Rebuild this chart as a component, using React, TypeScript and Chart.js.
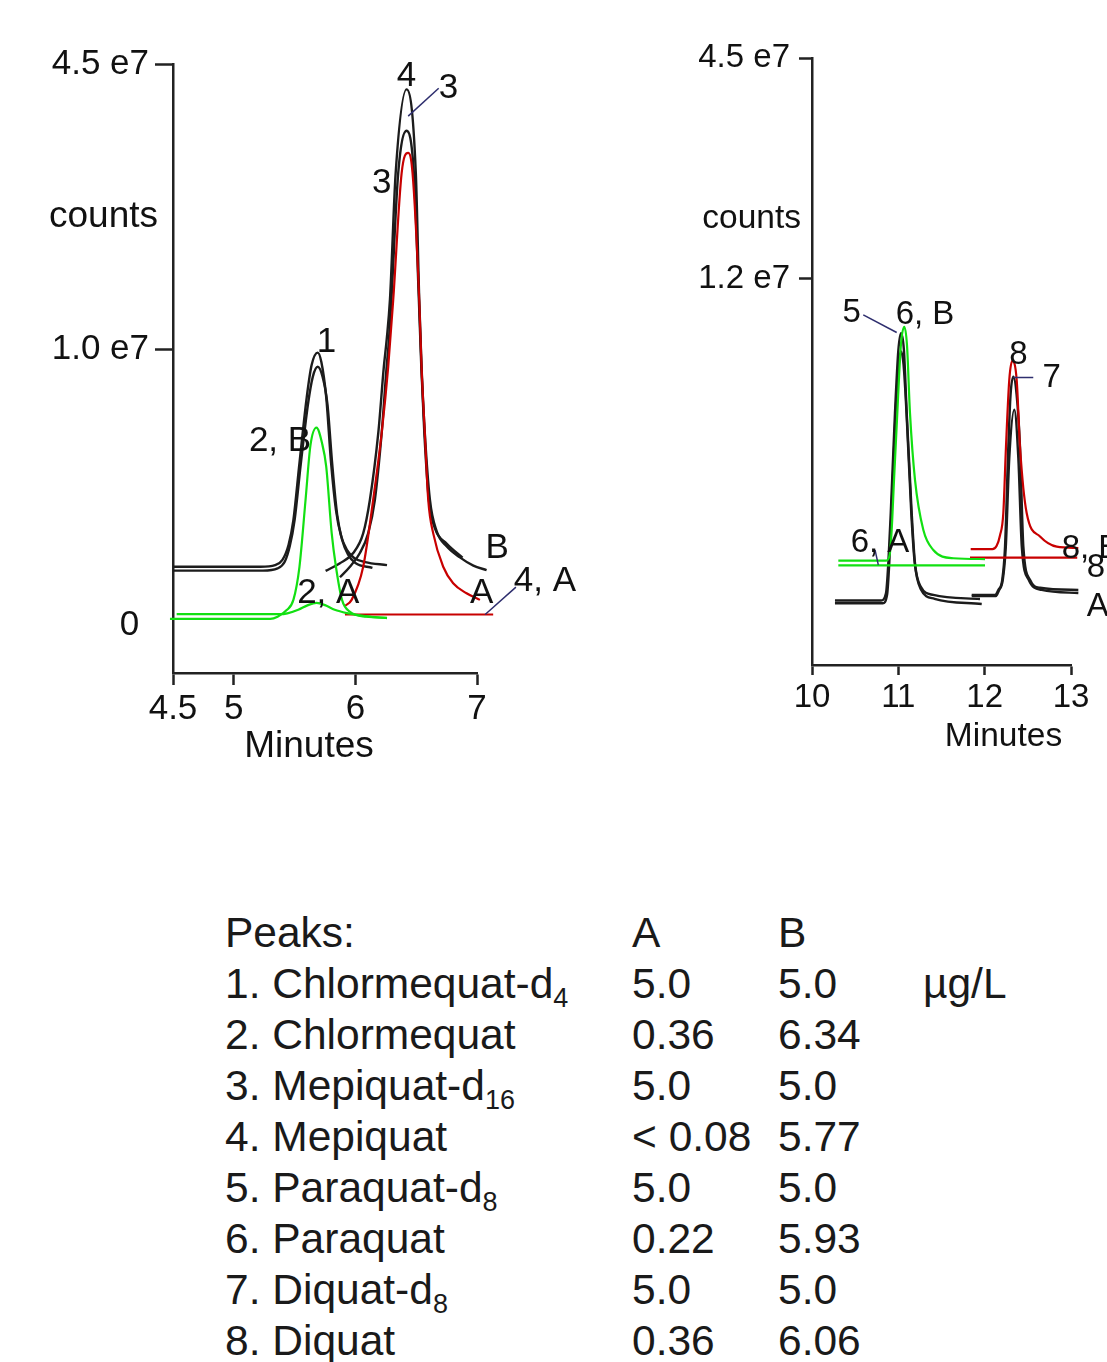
import React, { useEffect, useRef } from "react";
import { Chart, registerables } from "chart.js";

Chart.register(...registerables);

const FONT = '"Liberation Sans", Arial, Helvetica, sans-serif';
const AXIS = "#222";
const BLACK = "#1c1c1c";
const RED = "#c80000";
const GREEN = "#12e012";
const NAVY = "#2e2e6e";

type Pt = [number, number];
type Label = { t: number; v: number; text: string; align?: CanvasTextAlign };
type Leader = [number, number, number, number];

// ---------------- Left panel: x = minutes, y = counts (×1e6) ----------------
const leftXTicks = [4.5, 5, 6, 7];
const leftXTickLabels = ["4.5", "5", "6", "7"];
const leftYTicks = [0, 10, 20.33];
const leftYTickLabels = ["0 ", "1.0 e7", "4.5 e7"];

const leftGreenB: Pt[] = [
  [4.475, 0.22], [5.3, 0.22], [5.36, 0.3], [5.435, 0.54], [5.49, 0.91], [5.54, 2.11],
  [5.59, 4.53], [5.63, 6.5], [5.68, 7.15], [5.725, 6.6], [5.76, 5.74], [5.805, 3.33],
  [5.84, 2.11], [5.89, 0.91], [5.955, 0.48], [6.09, 0.3], [6.26, 0.26],
];
const leftGreenA: Pt[] = [
  [4.53, 0.39], [5.38, 0.39], [5.44, 0.42], [5.53, 0.55], [5.61, 0.72], [5.68, 0.8],
  [5.75, 0.72], [5.83, 0.55], [5.93, 0.43], [6.08, 0.32], [6.26, 0.25],
];
const leftRedA3: Pt[] = [
  [5.914, 0.69], [5.969, 0.91], [6.064, 2.11], [6.146, 4.53], [6.216, 6.95], [6.27, 9.36],
  [6.311, 11.78], [6.38, 16.37], [6.434, 17.11], [6.47, 16.37], [6.525, 11.78],
  [6.544, 9.36], [6.571, 6.95], [6.599, 4.53], [6.64, 3.32], [6.722, 2.11], [6.804, 1.51],
  [6.914, 1.15], [7.024, 0.91],
];
const leftRedA4: Pt[] = [[5.914, 0.38], [7.133, 0.38]];
const leftBlackB4: Pt[] = [
  [5.755, 1.96], [5.873, 2.24], [5.982, 2.61], [6.064, 3.32], [6.119, 4.53], [6.188, 6.95],
  [6.234, 9.36], [6.257, 10.33], [6.284, 11.78], [6.331, 16.37], [6.421, 19.41],
  [6.497, 16.37], [6.525, 11.78], [6.544, 9.36], [6.571, 6.95], [6.613, 4.53],
  [6.668, 3.4], [6.75, 2.85], [6.859, 2.45], [6.97, 2.15], [7.079, 1.99],
];
const leftBlackB3: Pt[] = [
  [5.873, 1.73], [5.955, 2.11], [6.037, 2.61], [6.105, 3.32], [6.16, 4.53], [6.216, 6.95],
  [6.257, 9.36], [6.276, 10.33], [6.296, 11.78], [6.352, 16.37], [6.421, 17.91],
  [6.481, 16.37], [6.522, 11.78], [6.542, 9.36], [6.567, 6.95], [6.604, 4.53],
  [6.654, 3.5], [6.75, 2.95], [6.881, 2.44],
];
const leftBlack1a: Pt[] = [
  [4.5, 2.11], [5.22, 2.11], [5.34, 2.17], [5.4, 2.36], [5.45, 2.9], [5.49, 3.8], [5.54, 5.87],
  [5.6, 8.26], [5.64, 9.42], [5.69, 9.87], [5.72, 9.53], [5.76, 8.26], [5.8, 5.87],
  [5.84, 4.17], [5.88, 3.26], [5.93, 2.72], [5.99, 2.43], [6.08, 2.28], [6.26, 2.17],
];
const leftBlack1b: Pt[] = [
  [4.5, 1.97], [5.24, 1.97], [5.36, 2.05], [5.42, 2.3], [5.46, 2.85], [5.5, 3.8], [5.55, 5.8],
  [5.61, 8.0], [5.65, 9.0], [5.69, 9.36], [5.73, 9.0], [5.77, 8.0], [5.81, 5.8],
  [5.85, 4.0], [5.89, 3.1], [5.94, 2.55], [6.0, 2.25], [6.14, 2.07],
];

const leftLabels: Label[] = [
  { t: 6.421, v: 19.87, text: "4" },
  { t: 6.766, v: 19.45, text: "3" },
  { t: 6.216, v: 16.0, text: "3" },
  { t: 5.763, v: 10.26, text: "1" },
  { t: 5.38, v: 6.64, text: "2, B" },
  { t: 7.166, v: 2.78, text: "B" },
  { t: 5.777, v: 1.15, text: "2, A" },
  { t: 7.038, v: 1.15, text: "A" },
  { t: 7.558, v: 1.57, text: "4, A" },
];
const leftLeaders: Leader[] = [
  [6.685, 19.45, 6.434, 18.44],
  [7.32, 1.37, 7.067, 0.38],
];

// ---------------- Right panel ----------------
const rightXTicks = [10, 11, 12, 13];
const rightXTickLabels = ["10", "11", "12", "13"];
const rightYTicks = [12, 20];
const rightYTickLabels = ["1.2 e7", "4.5 e7"];

const rightGreenB: Pt[] = [
  [10.305, 1.78], [10.86, 1.78], [10.9, 2.0], [10.923, 2.9], [10.95, 4.71], [10.988, 7.13],
  [11.03, 9.6], [11.069, 10.26], [11.1, 9.6], [11.135, 7.13], [11.193, 4.71], [11.289, 2.9],
  [11.405, 2.17], [11.637, 1.87], [12.004, 1.84],
];
const rightGreenA: Pt[] = [[10.305, 1.61], [12.004, 1.61]];
const rightRedB: Pt[] = [
  [11.838, 2.2], [12.09, 2.2], [12.139, 2.32], [12.178, 2.7], [12.216, 3.5], [12.247, 5.92],
  [12.285, 8.33], [12.32, 9.02], [12.371, 8.33], [12.409, 5.92], [12.487, 3.5],
  [12.641, 2.66], [12.835, 2.29], [13.085, 2.24],
];
const rightRedA: Pt[] = [[11.83, 1.89], [13.072, 1.89]];
const rightBlack5: Pt[] = [
  [10.266, 0.34], [10.8, 0.34], [10.857, 0.6], [10.884, 1.69], [10.912, 3.5], [10.961, 7.13],
  [11.0, 9.4], [11.031, 10.03], [11.065, 9.4], [11.097, 7.13], [11.155, 3.5], [11.193, 1.69],
  [11.259, 0.84], [11.405, 0.54], [11.946, 0.39],
];
const rightBlack6: Pt[] = [
  [10.266, 0.24], [10.82, 0.24], [10.87, 0.55], [10.895, 1.69], [10.92, 3.5], [10.968, 7.13],
  [11.005, 8.9], [11.031, 9.36], [11.06, 8.9], [11.095, 7.13], [11.15, 3.5], [11.19, 1.69],
  [11.26, 0.75], [11.42, 0.4], [11.966, 0.21],
];
const rightBlack7a: Pt[] = [
  [11.85, 0.54], [12.12, 0.54], [12.158, 0.72], [12.204, 1.09], [12.236, 2.29], [12.274, 5.92],
  [12.3, 7.8], [12.332, 8.45], [12.37, 7.8], [12.409, 5.92], [12.448, 2.29], [12.525, 1.09],
  [12.641, 0.8], [13.085, 0.72],
];
const rightBlack7b: Pt[] = [
  [11.85, 0.5], [12.13, 0.5], [12.165, 0.7], [12.21, 1.09], [12.245, 2.29], [12.285, 5.5],
  [12.343, 7.25], [12.39, 5.5], [12.43, 2.29], [12.51, 1.09], [12.66, 0.72], [13.085, 0.61],
];

const rightLabels: Label[] = [
  { t: 10.46, v: 10.75, text: "5" },
  { t: 11.309, v: 10.69, text: "6, B" },
  { t: 12.39, v: 9.24, text: "8" },
  { t: 12.777, v: 8.39, text: "7" },
  { t: 10.788, v: 2.42, text: "6, A" },
  { t: 12.892, v: 2.21, text: "8, B", align: "left" },
  { t: 13.182, v: 1.52, text: "8", align: "left" },
  { t: 13.182, v: 0.11, text: "A", align: "left" },
];
const rightLeaders: Leader[] = [
  [10.594, 10.69, 10.981, 10.05],
  [12.563, 8.42, 12.332, 8.42],
  [10.73, 2.17, 10.768, 1.63],
];

// ---------------- Table ----------------
const tableHeader = ["Peaks:", "A", "B"];
const peakNames = ["1. Chlormequat-d", "2. Chlormequat", "3. Mepiquat-d", "4. Mepiquat", "5. Paraquat-d", "6. Paraquat", "7. Diquat-d", "8. Diquat"];
const peakSubs = ["4", "", "16", "", "8", "", "8", ""];
const concA = ["5.0", "0.36", "5.0", "< 0.08", "5.0", "0.22", "5.0", "0.36"];
const concB = ["5.0", "6.34", "5.0", "5.77", "5.0", "5.93", "5.0", "6.06"];
const concUnit = "µg/L";

interface Series { points: Pt[]; color: string; width: number }
interface PanelCfg {
  width: number; height: number;
  area: { left: number; top: number; right: number; bottom: number };
  xMin: number; xMax: number; yMin: number; yMax: number;
  xTicks: number[]; xTickLabels: string[]; yTicks: number[]; yTickLabels: string[];
  series: Series[]; labels: Label[]; leaders: Leader[];
  tickFont: number; labelFont: number; titleFont: number;
  yTickLen: number; yTickPad: number; xTickLen: number; xTickPad: number;
  yTitle: { dx: number; dy: number }; xTitle: { dx: number; dy: number };
}

const X_AXIS_H = 60;

const leftPanel: PanelCfg = {
  width: 600, height: 800,
  area: { left: 173, top: 64, right: 477, bottom: 673 },
  xMin: 4.5, xMax: 7, yMin: -1.74, yMax: 20.33,
  xTicks: leftXTicks, xTickLabels: leftXTickLabels, yTicks: leftYTicks, yTickLabels: leftYTickLabels,
  series: [
    { points: leftGreenB, color: GREEN, width: 2.2 },
    { points: leftGreenA, color: GREEN, width: 2.2 },
    { points: leftRedA3, color: RED, width: 2.2 },
    { points: leftRedA4, color: RED, width: 2.2 },
    { points: leftBlackB4, color: BLACK, width: 2.4 },
    { points: leftBlackB3, color: BLACK, width: 2.4 },
    { points: leftBlack1a, color: BLACK, width: 2.4 },
    { points: leftBlack1b, color: BLACK, width: 2.4 },
  ],
  labels: leftLabels, leaders: leftLeaders,
  tickFont: 35, labelFont: 35, titleFont: 37,
  yTickLen: 18, yTickPad: 6, xTickLen: 12, xTickPad: 3,
  yTitle: { dx: -15, dy: 153 }, xTitle: { dx: 136, dy: 74 },
};

const rightPanel: PanelCfg = {
  width: 507, height: 800,
  area: { left: 212, top: 58, right: 471, bottom: 665 },
  xMin: 10, xMax: 13, yMin: -2.0, yMax: 20.0,
  xTicks: rightXTicks, xTickLabels: rightXTickLabels, yTicks: rightYTicks, yTickLabels: rightYTickLabels,
  series: [
    { points: rightGreenB, color: GREEN, width: 2.2 },
    { points: rightGreenA, color: GREEN, width: 2.2 },
    { points: rightRedB, color: RED, width: 2.2 },
    { points: rightRedA, color: RED, width: 2.2 },
    { points: rightBlack5, color: BLACK, width: 2.4 },
    { points: rightBlack6, color: BLACK, width: 2.4 },
    { points: rightBlack7a, color: BLACK, width: 2.4 },
    { points: rightBlack7b, color: BLACK, width: 2.4 },
  ],
  labels: rightLabels, leaders: rightLeaders,
  tickFont: 33, labelFont: 33, titleFont: 33.5,
  yTickLen: 13, yTickPad: 9, xTickLen: 10, xTickPad: 3,
  yTitle: { dx: -11, dy: 161 }, xTitle: { dx: 191.5, dy: 72 },
};

function makeChart(canvas: HTMLCanvasElement, p: PanelCfg) {
  const annot = {
    id: "peakLabels",
    afterDraw(chart: any) {
      const { ctx, chartArea } = chart;
      const xs = chart.scales.x;
      const ys = chart.scales.y;
      ctx.save();
      ctx.strokeStyle = NAVY;
      ctx.lineWidth = 1.5;
      for (const [t1, v1, t2, v2] of p.leaders) {
        ctx.beginPath();
        ctx.moveTo(xs.getPixelForValue(t1), ys.getPixelForValue(v1));
        ctx.lineTo(xs.getPixelForValue(t2), ys.getPixelForValue(v2));
        ctx.stroke();
      }
      ctx.fillStyle = "#111";
      ctx.textBaseline = "middle";
      ctx.font = `${p.labelFont}px ${FONT}`;
      for (const l of p.labels) {
        ctx.textAlign = l.align ?? "center";
        ctx.fillText(l.text, xs.getPixelForValue(l.t), ys.getPixelForValue(l.v));
      }
      ctx.font = `${p.titleFont}px ${FONT}`;
      ctx.textAlign = "right";
      ctx.fillText("counts", chartArea.left + p.yTitle.dx, chartArea.top + p.yTitle.dy);
      ctx.textAlign = "center";
      ctx.fillText("Minutes", chartArea.left + p.xTitle.dx, chartArea.bottom + p.xTitle.dy);
      ctx.restore();
    },
  };

  return new Chart(canvas, {
    type: "line",
    data: {
      datasets: p.series.map((s) => ({
        data: s.points.map(([x, y]) => ({ x, y })),
        borderColor: s.color,
        borderWidth: s.width,
        pointRadius: 0,
        fill: false,
        cubicInterpolationMode: "monotone",
        clip: false,
      })),
    },
    options: {
      animation: false,
      responsive: false,
      devicePixelRatio: 1,
      events: [],
      layout: {
        padding: {
          left: 0,
          top: p.area.top,
          right: p.width - p.area.right,
          bottom: p.height - p.area.bottom - X_AXIS_H,
        },
      },
      plugins: { legend: { display: false }, tooltip: { enabled: false } },
      scales: {
        x: {
          type: "linear",
          min: p.xMin,
          max: p.xMax,
          afterBuildTicks: (s: any) => { s.ticks = p.xTicks.map((value) => ({ value })); },
          afterFit: (s: any) => { s.height = X_AXIS_H; },
          ticks: {
            autoSkip: false, maxRotation: 0, minRotation: 0, padding: p.xTickPad, color: "#111",
            font: { family: FONT, size: p.tickFont },
            callback: (_v: any, i: number) => p.xTickLabels[i],
          },
          grid: { display: true, drawOnChartArea: false, drawTicks: true, tickLength: p.xTickLen, tickWidth: 2.5, tickColor: AXIS },
          border: { display: true, color: AXIS, width: 2.5 },
        },
        y: {
          type: "linear",
          min: p.yMin,
          max: p.yMax,
          afterBuildTicks: (s: any) => { s.ticks = p.yTicks.map((value) => ({ value })); },
          afterFit: (s: any) => { s.width = p.area.left; },
          ticks: {
            autoSkip: false, padding: p.yTickPad, color: "#111",
            font: { family: FONT, size: p.tickFont },
            callback: (_v: any, i: number) => p.yTickLabels[i],
          },
          grid: {
            display: true, drawOnChartArea: false, drawTicks: true, tickLength: p.yTickLen, tickWidth: 2.5,
            tickColor: (c: any) => (c.tick && c.tick.value === 0 ? "rgba(0,0,0,0)" : AXIS),
          },
          border: { display: true, color: AXIS, width: 2.5 },
        },
      },
    },
    plugins: [annot],
  } as any);
}

const ROW0_TOP = 907.3;
const ROW_H = 51;
const COLS = [225, 632, 778, 923];

export default function App() {
  const leftRef = useRef<HTMLCanvasElement>(null);
  const rightRef = useRef<HTMLCanvasElement>(null);

  useEffect(() => {
    const c1 = makeChart(leftRef.current!, leftPanel);
    const c2 = makeChart(rightRef.current!, rightPanel);
    return () => { c1.destroy(); c2.destroy(); };
  }, []);

  const rowStyle = (i: number): React.CSSProperties => ({
    position: "absolute", left: 0, top: ROW0_TOP + i * ROW_H, width: 1107, height: ROW_H,
    lineHeight: `${ROW_H}px`, fontSize: 42.5, whiteSpace: "nowrap",
  });
  const cell = (x: number): React.CSSProperties => ({ position: "absolute", left: x, top: 0 });

  return (
    <div style={{ position: "absolute", left: 0, top: 0, width: 1107, height: 1362, overflow: "hidden", background: "#fff", fontFamily: FONT, color: "#1a1a1a" }}>
      <canvas ref={leftRef} width={600} height={800} style={{ position: "absolute", left: 0, top: 0 }} />
      <canvas ref={rightRef} width={507} height={800} style={{ position: "absolute", left: 600, top: 0 }} />
      <div style={rowStyle(0)}>
        <span style={cell(COLS[0])}>{tableHeader[0]}</span>
        <span style={cell(COLS[1])}>{tableHeader[1]}</span>
        <span style={cell(COLS[2])}>{tableHeader[2]}</span>
      </div>
      {peakNames.map((name, i) => (
        <div key={i} style={rowStyle(i + 1)}>
          <span style={cell(COLS[0])}>
            {name}
            {peakSubs[i] ? (
              <span style={{ fontSize: 27, position: "relative", top: 9, lineHeight: 1 }}>{peakSubs[i]}</span>
            ) : null}
          </span>
          <span style={cell(COLS[1])}>{concA[i]}</span>
          <span style={cell(COLS[2])}>{concB[i]}</span>
          {i === 0 ? <span style={cell(COLS[3])}>{concUnit}</span> : null}
        </div>
      ))}
    </div>
  );
}
